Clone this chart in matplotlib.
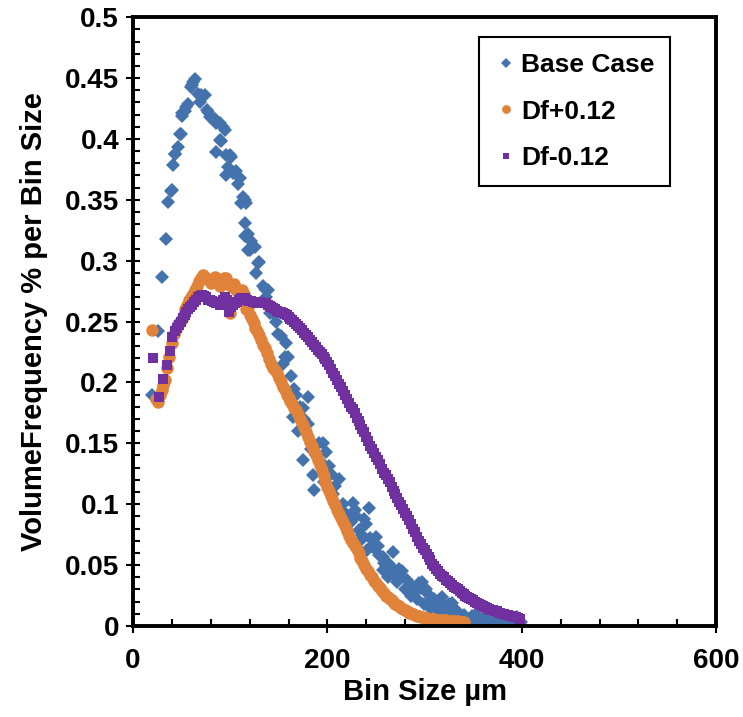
import matplotlib.pyplot as plt
from matplotlib.ticker import MultipleLocator, FuncFormatter

# Base Case (blue diamonds)
base_x = [19.8, 26, 29.4, 33.5, 36.2, 39, 39.7, 41.4, 43, 43.7, 46.5, 48.2, 48.9, 50, 50.6, 53.3, 55,
          56.7, 59.5, 60.2, 61.8, 63.6, 67, 68.7, 70.4, 73.8, 76, 77, 79, 84, 85.8, 85.8, 89, 89, 91,
          92.6, 94.4, 96, 96, 97.7, 99.5, 101, 102.9, 106, 108, 109.7, 111.5, 113, 115, 115, 115,
          116.6, 118, 118, 120, 121.7, 125, 127, 128.5, 130, 133.6, 135.4, 137, 138.8, 140.5, 143.9,
          147, 149, 152.5, 154, 156, 157.6, 159.3, 162.8, 164.4, 166, 168, 170, 172, 174.7, 174.7, 176,
          179.8, 179.8, 183, 185, 186.7, 188, 191.8, 193, 195, 196, 198.6, 200, 202, 204, 206, 208,
          212, 216, 218, 222.6, 224, 226, 228, 229, 232.8, 234, 236, 238, 239.6, 241, 243, 244, 246,
          248, 250, 252, 253, 256.7, 256.7, 258, 260, 262, 263.6, 264, 266, 267, 270, 272, 274, 276,
          277, 280, 282, 284, 286, 288, 290, 292, 294, 296, 297.7, 299, 301, 303, 305, 306, 308, 310,
          312, 314, 315, 316, 318, 320, 321, 323, 325, 327, 328.5, 330, 332, 334, 336, 338, 339, 341,
          343, 345, 347, 349, 350, 352.5, 354, 356, 358, 360, 362, 364, 366, 368, 370, 372, 374, 376,
          378, 380, 382, 385, 387, 388, 390, 392, 393, 395, 397, 399]
base_y = [0.190, 0.242, 0.287, 0.318, 0.348, 0.357, 0.358, 0.379, 0.388, 0.388, 0.393, 0.404, 0.404,
          0.421, 0.419, 0.423, 0.426, 0.429, 0.443, 0.444, 0.447, 0.449, 0.437, 0.430, 0.436, 0.436,
          0.424, 0.422, 0.418, 0.416, 0.389, 0.413, 0.413, 0.399, 0.398, 0.410, 0.407, 0.387, 0.370,
          0.377, 0.387, 0.385, 0.372, 0.374, 0.363, 0.368, 0.347, 0.352, 0.350, 0.331, 0.320, 0.347,
          0.322, 0.309, 0.309, 0.316, 0.311, 0.290, 0.298, 0.299, 0.279, 0.277, 0.270, 0.276, 0.257,
          0.257, 0.250, 0.240, 0.238, 0.215, 0.221, 0.232, 0.221, 0.205, 0.172, 0.195, 0.190, 0.160,
          0.180, 0.136, 0.179, 0.170, 0.188, 0.166, 0.145, 0.124, 0.112, 0.140, 0.150, 0.135, 0.150,
          0.118, 0.143, 0.124, 0.131, 0.125, 0.108, 0.115, 0.121, 0.100, 0.093, 0.090, 0.085, 0.101,
          0.095, 0.090, 0.079, 0.070, 0.075, 0.088, 0.084, 0.062, 0.097, 0.072, 0.066, 0.064, 0.073,
          0.066, 0.058, 0.057, 0.046, 0.052, 0.050, 0.040, 0.051, 0.044, 0.048, 0.061, 0.042, 0.036,
          0.047, 0.040, 0.045, 0.030, 0.038, 0.032, 0.025, 0.032, 0.028, 0.022, 0.035, 0.031, 0.036,
          0.018, 0.030, 0.026, 0.020, 0.015, 0.021, 0.022, 0.016, 0.012, 0.021, 0.018, 0.024, 0.016,
          0.012, 0.009, 0.018, 0.013, 0.019, 0.007, 0.013, 0.011, 0.006, 0.004, 0.008, 0.009, 0.004,
          0.003, 0.006, 0.008, 0.002, 0.010, 0.006, 0.003, 0.001, 0.004, 0.007, 0.002, 0.005, 0.004,
          0.002, 0.006, 0.001, 0.006, 0.005, 0.002, 0.001, 0.004, 0.006, 0.001, 0.003, 0.002, 0.002,
          0.007, 0.002, 0.003]

# Df+0.12 (orange circles)
dfp_x = [20, 24, 26, 28, 29.4, 31, 32.8, 35, 37.3, 39.7, 42, 44, 46, 48, 50, 52, 54, 56, 58, 60, 62,
         64, 66, 68, 70, 72, 74, 76, 78, 80, 82, 84, 86, 88, 90, 92, 94, 96, 98, 99.5, 100, 102, 104,
         106, 108, 110, 112, 114, 116, 118, 120, 122, 124, 126, 128, 130, 132, 134, 136, 138, 140,
         142, 144, 146, 148, 150, 152, 154, 156, 158, 160, 162, 164, 166, 168, 170, 172, 174, 176,
         178, 180, 182, 184, 186, 188, 190, 192, 194, 196, 198, 200, 202, 204, 206, 208, 210, 212,
         214, 216, 218, 220, 222, 224, 226, 228, 230, 232, 234, 236, 238, 240, 242, 244, 246, 248,
         250, 252, 254, 256, 258, 260, 262, 264, 266, 268, 270, 272, 274, 276, 278, 280, 282, 284,
         286, 288, 290, 292, 294, 296, 298, 300, 302, 304, 306, 308, 310, 312, 314, 316, 318, 320,
         322, 324, 326, 328, 330, 332, 334, 336, 338, 340]
dfp_y = [0.243, 0.186, 0.184, 0.190, 0.194, 0.198, 0.202, 0.212, 0.221, 0.232, 0.240, 0.244, 0.248,
         0.250, 0.252, 0.255, 0.260, 0.264, 0.268, 0.270, 0.273, 0.276, 0.279, 0.283, 0.286, 0.288,
         0.287, 0.285, 0.284, 0.282, 0.285, 0.287, 0.283, 0.281, 0.279, 0.283, 0.286, 0.286, 0.281,
         0.257, 0.280, 0.278, 0.281, 0.276, 0.275, 0.274, 0.276, 0.273, 0.260, 0.262, 0.255, 0.252,
         0.249, 0.245, 0.242, 0.239, 0.235, 0.231, 0.228, 0.224, 0.219, 0.215, 0.212, 0.210, 0.208,
         0.204, 0.200, 0.196, 0.194, 0.190, 0.187, 0.185, 0.182, 0.179, 0.177, 0.174, 0.170, 0.167,
         0.163, 0.159, 0.155, 0.151, 0.148, 0.144, 0.140, 0.136, 0.132, 0.128, 0.123, 0.118, 0.114,
         0.111, 0.107, 0.103, 0.099, 0.095, 0.092, 0.089, 0.085, 0.082, 0.078, 0.074, 0.071, 0.068,
         0.066, 0.063, 0.060, 0.056, 0.053, 0.050, 0.047, 0.045, 0.042, 0.040, 0.037, 0.035, 0.033,
         0.031, 0.029, 0.027, 0.025, 0.024, 0.022, 0.021, 0.019, 0.018, 0.017, 0.016, 0.015, 0.014,
         0.013, 0.012, 0.011, 0.0105, 0.010, 0.009, 0.0085, 0.008, 0.0075, 0.007, 0.0065, 0.0062,
         0.006, 0.0058, 0.0057, 0.0055, 0.0052, 0.005, 0.0049, 0.0048, 0.0046, 0.0045, 0.0044, 0.0042,
         0.0041, 0.004, 0.0039, 0.0038, 0.0036, 0.0035, 0.0035]

# Df-0.12 (purple squares)
dfm_x = [20.2, 26.7, 30.4, 34.5, 38, 40.6, 43, 45, 47, 49, 51, 53, 55, 57, 59, 61, 63, 65, 67, 69,
         71, 73, 75, 77, 79, 81, 83, 85, 87, 89, 91, 93, 95, 97, 99, 101, 103, 105, 107, 109, 111,
         113, 115, 117, 119, 121, 123, 125, 127, 129, 131, 133, 135, 137, 139, 141, 142, 144, 146,
         148, 150, 152, 154, 156, 158, 160, 162, 164, 166, 168, 170, 172, 174, 176, 178, 180, 182,
         184, 186, 188, 190, 192, 194, 196, 198, 200, 202, 204, 206, 208, 210, 212, 214, 216, 218,
         220, 222, 224, 226, 228, 230, 232, 234, 236, 238, 240, 242, 244, 246, 248, 250, 252, 254,
         256, 258, 260, 262, 264, 266, 268, 270, 272, 274, 276, 278, 280, 282, 284, 286, 288, 290,
         292, 294, 296, 298, 300, 302, 304, 306, 308, 310, 312, 314, 316, 318, 320, 322, 324, 326,
         328, 330, 332, 334, 336, 338, 340, 342, 344, 346, 348, 350, 352, 354, 356, 358, 360, 362,
         364, 366, 368, 370, 372, 374, 376, 378, 380, 382, 384, 386, 388, 390, 392, 394, 396, 398]
dfm_y = [0.220, 0.188, 0.2025, 0.214, 0.226, 0.237, 0.242, 0.245, 0.247, 0.250, 0.253, 0.255, 0.258,
         0.260, 0.262, 0.264, 0.266, 0.268, 0.270, 0.271, 0.272, 0.271, 0.270, 0.268, 0.268, 0.267,
         0.266, 0.265, 0.266, 0.264, 0.266, 0.268, 0.270, 0.268, 0.258, 0.262, 0.264, 0.265, 0.266,
         0.268, 0.269, 0.2695, 0.269, 0.268, 0.267, 0.267, 0.266, 0.266, 0.265, 0.266, 0.266, 0.265,
         0.265, 0.265, 0.264, 0.263, 0.262, 0.261, 0.260, 0.259, 0.258, 0.2575, 0.257, 0.256, 0.255,
         0.254, 0.252, 0.251, 0.2495, 0.248, 0.2465, 0.245, 0.243, 0.241, 0.239, 0.237, 0.235, 0.233,
         0.231, 0.229, 0.227, 0.225, 0.223, 0.221, 0.219, 0.217, 0.214, 0.211, 0.208, 0.205, 0.202,
         0.199, 0.196, 0.193, 0.190, 0.186, 0.183, 0.180, 0.178, 0.175, 0.171, 0.168, 0.165, 0.162,
         0.159, 0.155, 0.152, 0.148, 0.145, 0.142, 0.139, 0.136, 0.133, 0.129, 0.126, 0.124, 0.121,
         0.118, 0.114, 0.111, 0.108, 0.105, 0.102, 0.099, 0.096, 0.093, 0.090, 0.087, 0.084, 0.080,
         0.077, 0.073, 0.070, 0.067, 0.064, 0.062, 0.059, 0.057, 0.054, 0.051, 0.049, 0.047, 0.045,
         0.043, 0.041, 0.040, 0.038, 0.037, 0.035, 0.034, 0.032, 0.031, 0.030, 0.029, 0.027, 0.026,
         0.025, 0.024, 0.023, 0.022, 0.021, 0.020, 0.019, 0.018, 0.017, 0.016, 0.0155, 0.015, 0.014,
         0.0135, 0.013, 0.0125, 0.012, 0.011, 0.0105, 0.010, 0.0095, 0.009, 0.0088, 0.0085, 0.008,
         0.0077, 0.007, 0.0065, 0.006]

plt.rcParams['font.family'] = ['Liberation Sans', 'DejaVu Sans']
plt.rcParams['font.weight'] = 'bold'

fig = plt.figure(figsize=(7.43, 7.17), dpi=100)
ax = fig.add_axes([0.179, 0.127, 0.785, 0.849])

ax.plot(base_x, base_y, 'D', color='#4472AC', markersize=7, markeredgewidth=0, label='Base Case')
ax.plot(dfp_x, dfp_y, 'o', color='#E0823A', markersize=9, markeredgewidth=0, label='Df+0.12')
ax.plot(dfm_x, dfm_y, 's', color='#7030A0', markersize=7, markeredgewidth=0, label='Df-0.12')

ax.set_xlim(0, 600)
ax.set_ylim(0, 0.5)
ax.xaxis.set_major_locator(MultipleLocator(200))
ax.xaxis.set_minor_locator(MultipleLocator(40))
ax.yaxis.set_major_locator(MultipleLocator(0.05))
ax.yaxis.set_minor_locator(MultipleLocator(0.01))
ax.yaxis.set_major_formatter(FuncFormatter(lambda v, p: '{:g}'.format(round(v, 2))))

for s in ax.spines.values():
    s.set_linewidth(2.8)
ax.tick_params(which='major', direction='inout', length=10, width=1.5, labelsize=20, pad=5)
ax.tick_params(which='minor', direction='in', length=5, width=1.5)
ax.tick_params(axis='x', pad=11)

ax.set_xlabel('Bin Size µm', fontsize=21, fontweight='bold', labelpad=3)
ax.set_ylabel('VolumeFrequency % per Bin Size', fontsize=21, fontweight='bold', labelpad=12)

leg = ax.legend(loc='upper right', bbox_to_anchor=(0.921, 0.967), borderaxespad=0, fancybox=False,
                edgecolor='black', fontsize=19, markerscale=0.7, labelspacing=0.85, handletextpad=0.1,
                handlelength=0.9, borderpad=0.6, framealpha=1)
leg.get_frame().set_linewidth(1.5)
for t in leg.get_texts():
    t.set_fontweight('bold')

fig.savefig('out.png', dpi=100)
